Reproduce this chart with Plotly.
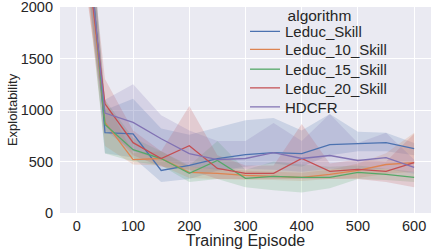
import plotly.graph_objects as go

episodes = [0, 50, 100, 150, 200, 250, 300, 350, 400, 450, 500, 550, 600]
algorithms = ["Leduc_Skill", "Leduc_10_Skill", "Leduc_15_Skill", "Leduc_20_Skill", "HDCFR"]
colors = ["#4C72B0", "#DD8452", "#55A868", "#C44E52", "#8172B3"]

skill_mean = [4000, 780, 769, 413, 462, 528, 567, 587, 577, 663, 673, 683, 625]
skill_low = [3400, 580, 540, 300, 330, 410, 450, 480, 450, 560, 600, 600, 560]
skill_high = [4600, 1000, 1110, 820, 760, 830, 900, 923, 800, 960, 790, 780, 680]

s10_mean = [3500, 880, 519, 529, 394, 385, 365, 356, 346, 375, 413, 471, 490]
s10_low = [3000, 650, 470, 460, 340, 330, 320, 320, 310, 330, 340, 380, 400]
s10_high = [4000, 1100, 580, 600, 450, 440, 410, 400, 390, 420, 480, 580, 780]

s15_mean = [3800, 860, 615, 529, 385, 510, 337, 356, 346, 346, 394, 375, 346]
s15_low = [3200, 577, 500, 460, 300, 330, 250, 220, 200, 240, 330, 320, 300]
s15_high = [4400, 1100, 730, 600, 460, 700, 420, 500, 470, 450, 460, 430, 400]

s20_mean = [3300, 1060, 683, 529, 654, 433, 385, 385, 529, 404, 423, 404, 490]
s20_low = [2800, 850, 560, 450, 420, 330, 330, 330, 330, 330, 330, 300, 250]
s20_high = [3800, 1300, 800, 600, 1038, 560, 460, 460, 865, 480, 520, 500, 770]

hdcfr_mean = [3600, 970, 880, 721, 577, 519, 529, 587, 529, 558, 510, 538, 442]
hdcfr_low = [3100, 800, 600, 520, 450, 420, 430, 420, 400, 430, 420, 430, 380]
hdcfr_high = [4100, 1100, 1250, 950, 800, 700, 700, 875, 700, 961, 680, 779, 520]

means = [skill_mean, s10_mean, s15_mean, s20_mean, hdcfr_mean]
lows = [skill_low, s10_low, s15_low, s20_low, hdcfr_low]
highs = [skill_high, s10_high, s15_high, s20_high, hdcfr_high]


def rgba(hexc, a):
    h = hexc.lstrip("#")
    r, g, b = int(h[0:2], 16), int(h[2:4], 16), int(h[4:6], 16)
    return f"rgba({r},{g},{b},{a})"


legend_ids = ["legend", "legend2", "legend3", "legend4", "legend5"]

fig = go.Figure()
for name, c, lo, hi in zip(algorithms, colors, lows, highs):
    fig.add_trace(go.Scatter(
        x=episodes + episodes[::-1], y=hi + lo[::-1],
        fill="toself", fillcolor=rgba(c, 0.2), line=dict(width=0),
        mode="lines", showlegend=False, hoverinfo="skip"))
for name, c, m, lg in zip(algorithms, colors, means, legend_ids):
    fig.add_trace(go.Scatter(
        x=episodes, y=m, mode="lines", name=name, legend=lg,
        line=dict(color=c, width=1.3)))
# holder entry that carries the legend title "algorithm"
fig.add_trace(go.Scatter(x=[None], y=[None], mode="lines", name=" ", legend="legend6",
                         showlegend=True,
                         line=dict(color="rgba(0,0,0,0)", width=0),
                         hoverinfo="skip"))

font_family = "Liberation Sans, Arial, sans-serif"
tick_color = "#262626"
leg_x = 0.4987
common_leg = dict(font=dict(size=15), x=leg_x, xanchor="left",
                  bgcolor="rgba(0,0,0,0)", borderwidth=0, itemwidth=30)

fig.update_layout(
    width=432, height=249,
    margin=dict(l=60, r=1, t=5, b=36),
    paper_bgcolor="white", plot_bgcolor="#EAEAF2",
    font=dict(family=font_family, size=14, color=tick_color),
    legend=dict(y=0.880, yanchor="middle", **common_leg),
    legend2=dict(y=0.793, yanchor="middle", **common_leg),
    legend3=dict(y=0.697, yanchor="middle", **common_leg),
    legend4=dict(y=0.606, yanchor="middle", **common_leg),
    legend5=dict(y=0.514, yanchor="middle", **common_leg),
    legend6=dict(title=dict(text="algorithm", side="top left", font=dict(size=15.5)),
                 font=dict(size=6), x=0.608, xanchor="left", y=1.03, yanchor="top",
                 bgcolor="rgba(0,0,0,0)", borderwidth=0, itemwidth=30),
)
fig.update_xaxes(
    range=[-30, 630], tickvals=[0, 100, 200, 300, 400, 500, 600],
    showgrid=True, gridcolor="white", gridwidth=1, zeroline=False,
    showline=False, ticks="", tickfont=dict(size=14.5),
    ticklabelstandoff=2, ticklabeloverflow="allow",
    title=dict(text="Training Episode", font=dict(size=16), standoff=0),
    automargin=False)
fig.update_yaxes(
    range=[0, 2000], tickvals=[0, 500, 1000, 1500, 2000],
    showgrid=True, gridcolor="white", gridwidth=1, zeroline=False,
    showline=False, ticks="", tickfont=dict(size=14.5),
    ticklabelstandoff=6, ticklabeloverflow="allow",
    title=dict(text="Exploitability", font=dict(size=13), standoff=0),
    automargin=False)

fig.write_html("out.html", config={"displayModeBar": False},
               post_script="document.body.style.margin='0';")
